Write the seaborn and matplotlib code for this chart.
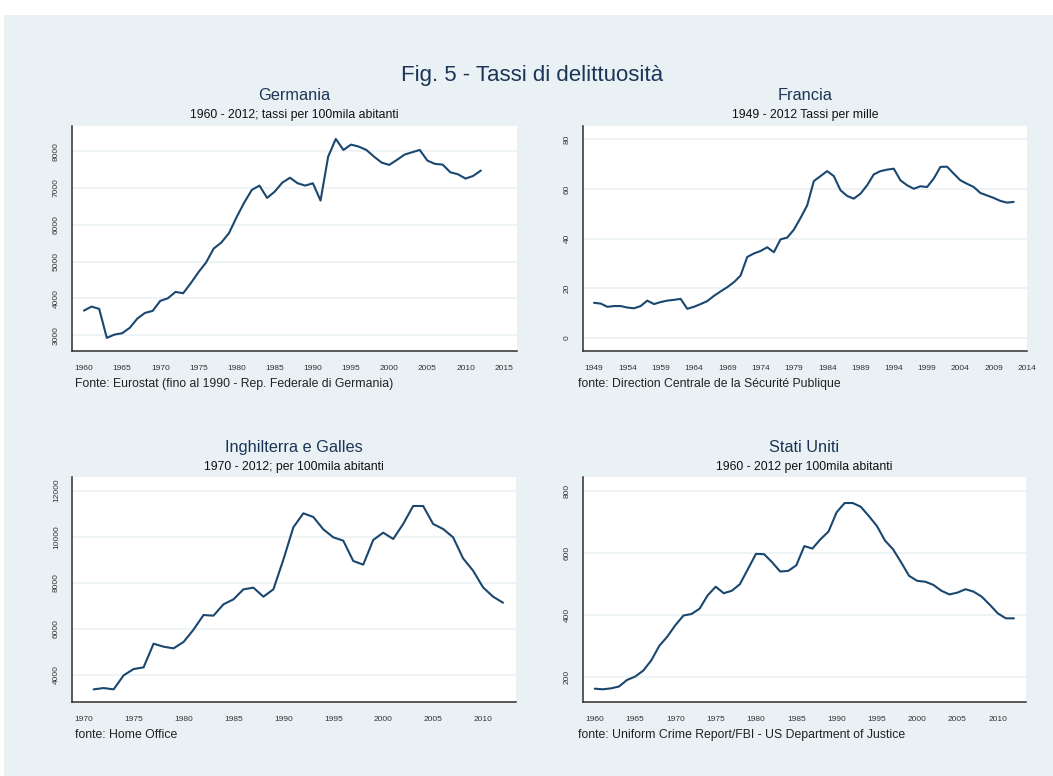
import numpy as np
import pandas as pd
import matplotlib
matplotlib.use("Agg")
import matplotlib.pyplot as plt
from matplotlib import font_manager
from matplotlib.patches import Rectangle
import seaborn as sns

# ---------------------------------------------------------------- data
germania_anni = list(range(1960, 2013))
germania_tassi = [
    3670, 3779, 3716, 2928, 3018, 3054, 3200, 3453, 3607, 3661,
    3933, 4005, 4178, 4141, 4413, 4712, 4975, 5355, 5518, 5772,
    6207, 6605, 6950, 7067, 6732, 6904, 7149, 7280, 7130, 7067,
    7130, 6660, 7855, 8335, 8036, 8181, 8127, 8036, 7855, 7692,
    7629, 7764, 7909, 7973, 8036, 7746, 7656, 7638, 7429, 7375,
    7257, 7330, 7475,
]

francia_anni = list(range(1949, 2013))
francia_tassi = [
    14.1, 13.8, 12.5, 12.8, 12.8, 12.2, 11.9, 12.8, 15.0, 13.6, 14.4,
    15.0, 15.3, 15.7, 11.7, 12.5, 13.6, 14.8, 16.9, 18.7, 20.4,
    22.4, 25.1, 32.6, 34.0, 35.0, 36.5, 34.5, 39.7, 40.4, 43.6,
    48.3, 53.4, 63.2, 65.2, 67.2, 65.2, 59.5, 57.2, 56.1, 58.1,
    61.5, 65.9, 67.2, 67.8, 68.2, 63.5, 61.5, 60.1, 61.1, 60.8,
    64.2, 68.9, 69.0, 66.2, 63.5, 62.1, 60.8, 58.4, 57.4, 56.4,
    55.2, 54.5, 54.8,
]

inghilterra_anni = list(range(1971, 2013))
inghilterra_tassi = [
    3362, 3420, 3362, 3971, 4246, 4319, 5348, 5217, 5145, 5420,
    5957, 6594, 6565, 7058, 7275, 7710, 7783, 7391, 7710, 9000,
    10406, 11014, 10855, 10319, 9971, 9826, 8942, 8783, 9855, 10174,
    9899, 10551, 11333, 11333, 10551, 10333, 9971, 9058, 8522, 7797,
    7391, 7130,
]

usa_anni = list(range(1960, 2013))
usa_tassi = [
    161, 159, 162, 168, 189, 200, 219, 252, 299, 329,
    366, 397, 402, 419, 462, 490, 469, 477, 498, 547,
    596, 595, 569, 539, 541, 559, 621, 613, 643, 668,
    730, 760, 760, 748, 718, 686, 639, 611, 569, 525,
    509, 506, 496, 477, 465, 471, 482, 474, 458, 432,
    404, 388, 388,
]

germania_yticks = [3000, 4000, 5000, 6000, 7000, 8000]
francia_yticks = [0, 20, 40, 60, 80]
inghilterra_yticks = [4000, 6000, 8000, 10000, 12000]
usa_yticks = [200, 400, 600, 800]

germania_xticks = list(range(1960, 2016, 5))
francia_xticks = list(range(1949, 2015, 5))
inghilterra_xticks = list(range(1970, 2011, 5))
usa_xticks = list(range(1960, 2011, 5))

titolo = "Fig. 5 - Tassi di delittuosità"
titoli = ["Germania", "Francia", "Inghilterra e Galles", "Stati Uniti"]
sottotitoli = [
    "1960 - 2012; tassi per 100mila abitanti",
    "1949 - 2012 Tassi per mille",
    "1970 - 2012; per 100mila abitanti",
    "1960 - 2012 per 100mila abitanti",
]
fonti = [
    "Fonte: Eurostat (fino al 1990 - Rep. Federale di Germania)",
    "fonte: Direction Centrale de la Sécurité Publique",
    "fonte: Home Office",
    "fonte: Uniform Crime Report/FBI - US Department of Justice",
]

# ---------------------------------------------------------------- style
sns.set_style("white")


def pick(*names):
    for n in names:
        try:
            font_manager.findfont(font_manager.FontProperties(family=n),
                                  fallback_to_default=False)
            return n
        except Exception:
            continue
    return "DejaVu Sans"


REG = pick("Liberation Sans", "Arial")
plt.rcParams["font.family"] = [REG, "DejaVu Sans"]

BG = "#EAF1F4"
GRID = "#EBF2F4"
LINE = "#1A476F"
AXIS = "#2E2E2E"
HEAD = "#1C3557"

W, H = 1053, 776
fig = plt.figure(figsize=(W / 100, H / 100), dpi=100, facecolor="white")
fig.patches.append(Rectangle((4 / W, 0), 1 - 4 / W, 1 - 15 / H,
                             transform=fig.transFigure, facecolor=BG,
                             edgecolor="none", zorder=-10))


def fx(x):
    return x / W


def fy(y):
    return 1 - y / H


fig.text(fx(532), fy(75), titolo, ha="center", va="center",
         fontsize=16, color=HEAD)

# pixel boxes of the four plot regions: left, top, right, bottom
boxes = [
    (71.7, 125.5, 516.7, 350.7),
    (582.7, 125.5, 1027.0, 350.7),
    (71.7, 477.3, 516.0, 701.7),
    (582.7, 477.3, 1026.0, 701.7),
]

pannelli = [
    (germania_anni, germania_tassi, germania_yticks, germania_xticks,
     (2580, 8700), (1958.4, 2016.7)),
    (francia_anni, francia_tassi, francia_yticks, francia_xticks,
     (-5.2, 85.6), (1947.3, 2014.0)),
    (inghilterra_anni, inghilterra_tassi, inghilterra_yticks,
     inghilterra_xticks, (2826, 12580), (1968.8, 2013.3)),
    (usa_anni, usa_tassi, usa_yticks, usa_xticks,
     (119, 843), (1958.5, 2013.5)),
]

for i, ((l, t, r, b), (anni, tassi, yt, xt, ylim, xlim)) in enumerate(
        zip(boxes, pannelli)):
    ax = fig.add_axes([fx(l), fy(b), (r - l) / W, (b - t) / H])
    ax.set_facecolor("white")
    df = pd.DataFrame({"anno": anni, "tasso": tassi})
    sns.lineplot(data=df, x="anno", y="tasso", ax=ax, color=LINE,
                 linewidth=1.5, zorder=3)
    ax.set_xlim(*xlim)
    ax.set_ylim(*ylim)
    ax.set_xticks(xt)
    ax.set_yticks(yt)
    ax.set_xticklabels([str(v) for v in xt])
    ax.set_yticklabels([str(v) for v in yt], rotation=90, va="center")
    ax.set_xlabel("")
    ax.set_ylabel("")
    ax.grid(axis="y", color=GRID, linewidth=1.2)
    ax.grid(axis="x", visible=False)
    ax.set_axisbelow(True)
    for s in ("top", "right"):
        ax.spines[s].set_visible(False)
    for s in ("left", "bottom"):
        ax.spines[s].set_color(AXIS)
        ax.spines[s].set_linewidth(1.1)
    ax.tick_params(axis="x", direction="out", length=6, width=1.0,
                   color=AXIS, labelsize=6, labelcolor="#333333", pad=4)
    ax.tick_params(axis="y", direction="out", length=5.5, width=1.0,
                   color=AXIS, labelsize=6, labelcolor="#333333", pad=3)

    cx = (l + r) / 2
    fig.text(fx(cx), fy(t - 30), titoli[i], ha="center", va="center",
             fontsize=11.8, color=HEAD)
    fig.text(fx(cx), fy(t - 10.5), sottotitoli[i], ha="center", va="center",
             fontsize=8.8, color="#111111")
    fig.text(fx(l + 3.5 if i % 2 == 0 else l - 4.5), fy(b + 33), fonti[i],
             ha="left", va="center", fontsize=8.8, color="#222222")

fig.savefig("out.png", dpi=100, facecolor=fig.get_facecolor())
